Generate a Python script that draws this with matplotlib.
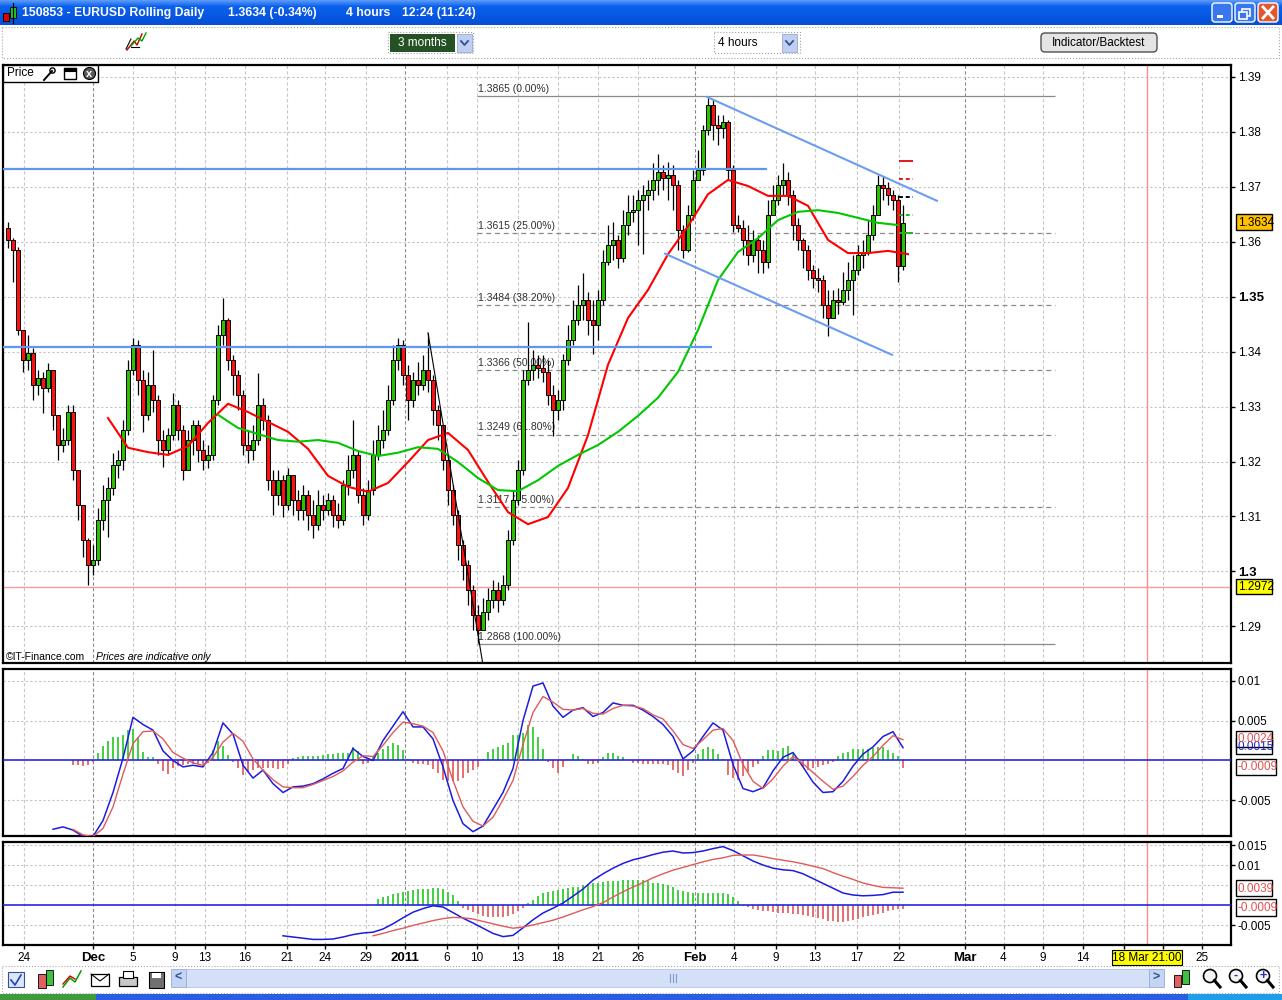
import numpy as np
import matplotlib
matplotlib.use("Agg")
import matplotlib.pyplot as plt
from matplotlib.patches import Rectangle, FancyBboxPatch, Circle

plt.rcParams["font.family"] = ["Liberation Sans", "DejaVu Sans"]

# ---- EURUSD candles (one candle ~ 8 hours) ----
first_open = 1.3625
close = [
    1.3603, 1.3585, 1.3439, 1.3384, 1.3398, 1.3339, 1.3352, 1.3334, 1.3366, 1.3285,
    1.3230, 1.3239, 1.3290, 1.3184, 1.3121, 1.3057, 1.3012, 1.3021, 1.3094, 1.3130,
    1.3152, 1.3194, 1.3203, 1.3257, 1.3366, 1.3412, 1.3348, 1.3285, 1.3339, 1.3312,
    1.3239, 1.3221, 1.3248, 1.3303, 1.3257, 1.3184, 1.3239, 1.3266, 1.3221, 1.3203,
    1.3212, 1.3312, 1.3430, 1.3457, 1.3384, 1.3357, 1.3321, 1.3230, 1.3221, 1.3239,
    1.3303, 1.3275, 1.3166, 1.3139, 1.3166, 1.3121, 1.3175, 1.3130, 1.3112, 1.3139,
    1.3103, 1.3085, 1.3121, 1.3112, 1.3130, 1.3103, 1.3094, 1.3157, 1.3184, 1.3212,
    1.3139, 1.3103, 1.3148, 1.3212, 1.3239, 1.3257, 1.3312, 1.3384, 1.3412, 1.3357,
    1.3312, 1.3348, 1.3339, 1.3366, 1.3348, 1.3294, 1.3266, 1.3203, 1.3148, 1.3103,
    1.3048, 1.3012, 1.2967, 1.2921, 1.2894, 1.2926, 1.2948, 1.2967, 1.2948, 1.2976,
    1.3057, 1.3130, 1.3184, 1.3348, 1.3366, 1.3375, 1.3370, 1.3363, 1.3321, 1.3294,
    1.3312, 1.3384, 1.3421, 1.3457, 1.3485, 1.3494, 1.3457, 1.3448, 1.3494, 1.3563,
    1.3594, 1.3603, 1.3570, 1.3630, 1.3654, 1.3657, 1.3675, 1.3685, 1.3694, 1.3712,
    1.3726, 1.3715, 1.3721, 1.3703, 1.3621, 1.3585, 1.3648, 1.3712, 1.3730, 1.3803,
    1.3848, 1.3812, 1.3806, 1.3817, 1.3730, 1.3630, 1.3624, 1.3603, 1.3575, 1.3603,
    1.3585, 1.3563, 1.3648, 1.3675, 1.3703, 1.3712, 1.3685, 1.3630, 1.3603, 1.3585,
    1.3548, 1.3534, 1.3530, 1.3485, 1.3461, 1.3494, 1.3490, 1.3512, 1.3530, 1.3548,
    1.3575, 1.3581, 1.3612, 1.3648, 1.3703, 1.3697, 1.3685, 1.3675, 1.3555, 1.3634,
]
high = [
    1.3635, 1.3606, 1.3590, 1.3439, 1.3430, 1.3407, 1.3366, 1.3363, 1.3379, 1.3366,
    1.3285, 1.3261, 1.3303, 1.3303, 1.3184, 1.3121, 1.3060, 1.3048, 1.3115, 1.3157,
    1.3172, 1.3215, 1.3221, 1.3275, 1.3384, 1.3425, 1.3421, 1.3366, 1.3363, 1.3403,
    1.3321, 1.3257, 1.3261, 1.3324, 1.3312, 1.3266, 1.3257, 1.3275, 1.3275, 1.3239,
    1.3230, 1.3321, 1.3448, 1.3497, 1.3461, 1.3393, 1.3366, 1.3330, 1.3257, 1.3266,
    1.3361, 1.3315, 1.3285, 1.3184, 1.3184, 1.3175, 1.3188, 1.3175, 1.3148, 1.3157,
    1.3148, 1.3130, 1.3148, 1.3139, 1.3143, 1.3139, 1.3125, 1.3166, 1.3212, 1.3275,
    1.3221, 1.3152, 1.3166, 1.3239, 1.3266, 1.3294, 1.3339, 1.3412, 1.3425, 1.3421,
    1.3375, 1.3363, 1.3381, 1.3393, 1.3434, 1.3357, 1.3303, 1.3266, 1.3212, 1.3157,
    1.3112, 1.3057, 1.3021, 1.2976, 1.2939, 1.2952, 1.2970, 1.2985, 1.2981, 1.2994,
    1.3076, 1.3148, 1.3203, 1.3366, 1.3454, 1.3403, 1.3393, 1.3393, 1.3384, 1.3339,
    1.3330, 1.3395, 1.3448, 1.3494, 1.3521, 1.3543, 1.3508, 1.3494, 1.3512, 1.3585,
    1.3630, 1.3635, 1.3612, 1.3657, 1.3685, 1.3685, 1.3694, 1.3703, 1.3712, 1.3743,
    1.3759, 1.3739, 1.3745, 1.3739, 1.3712, 1.3630, 1.3666, 1.3730, 1.3766, 1.3812,
    1.3861, 1.3857, 1.3830, 1.3830, 1.3821, 1.3739, 1.3648, 1.3639, 1.3630, 1.3621,
    1.3612, 1.3603, 1.3675, 1.3703, 1.3721, 1.3743, 1.3726, 1.3694, 1.3643, 1.3606,
    1.3594, 1.3557, 1.3552, 1.3539, 1.3512, 1.3512, 1.3515, 1.3545, 1.3563, 1.3575,
    1.3594, 1.3603, 1.3639, 1.3666, 1.3721, 1.3719, 1.3708, 1.3694, 1.3685, 1.3666,
]
low = [
    1.3588, 1.3526, 1.3430, 1.3363, 1.3366, 1.3312, 1.3321, 1.3288, 1.3326, 1.3257,
    1.3203, 1.3217, 1.3230, 1.3166, 1.3094, 1.3026, 1.2976, 1.2994, 1.3012, 1.3076,
    1.3063, 1.3139, 1.3170, 1.3184, 1.3248, 1.3357, 1.3321, 1.3254, 1.3275, 1.3290,
    1.3212, 1.3190, 1.3212, 1.3239, 1.3239, 1.3166, 1.3184, 1.3212, 1.3199, 1.3184,
    1.3188, 1.3203, 1.3303, 1.3412, 1.3366, 1.3321, 1.3294, 1.3212, 1.3197, 1.3203,
    1.3230, 1.3257, 1.3148, 1.3103, 1.3121, 1.3099, 1.3112, 1.3103, 1.3094, 1.3094,
    1.3076, 1.3061, 1.3076, 1.3094, 1.3103, 1.3081, 1.3079, 1.3085, 1.3139, 1.3170,
    1.3125, 1.3085, 1.3094, 1.3139, 1.3203, 1.3224, 1.3248, 1.3303, 1.3366, 1.3339,
    1.3275, 1.3299, 1.3321, 1.3330, 1.3326, 1.3266, 1.3239, 1.3184, 1.3121, 1.3085,
    1.3021, 1.2985, 1.2939, 1.2894, 1.2870, 1.2894, 1.2912, 1.2933, 1.2926, 1.2939,
    1.2967, 1.3048, 1.3121, 1.3175, 1.3339, 1.3348, 1.3352, 1.3345, 1.3303, 1.3246,
    1.3275, 1.3294, 1.3375, 1.3412, 1.3448, 1.3457, 1.3430, 1.3395, 1.3421, 1.3485,
    1.3557, 1.3566, 1.3552, 1.3563, 1.3612, 1.3635, 1.3594, 1.3577, 1.3657, 1.3675,
    1.3685, 1.3694, 1.3675, 1.3657, 1.3585, 1.3570, 1.3581, 1.3639, 1.3712, 1.3721,
    1.3793, 1.3784, 1.3775, 1.3788, 1.3712, 1.3617, 1.3617, 1.3575, 1.3557, 1.3563,
    1.3543, 1.3543, 1.3552, 1.3648, 1.3666, 1.3685, 1.3666, 1.3603, 1.3585, 1.3552,
    1.3530, 1.3515, 1.3508, 1.3461, 1.3428, 1.3461, 1.3468, 1.3485, 1.3494, 1.3466,
    1.3540, 1.3552, 1.3575, 1.3603, 1.3648, 1.3675, 1.3666, 1.3657, 1.3526, 1.3548,
]

# moving averages, sampled every 4 candles
ma_step = 4
ma_red_start = 20
ma_red = [
    1.3279, 1.3225, 1.3217, 1.3212, 1.3228, 1.3270, 1.3305, 1.3290, 1.3272, 1.3254,
    1.3223, 1.3174, 1.3154, 1.3145, 1.3161, 1.3199, 1.3239, 1.3252, 1.3221, 1.3163,
    1.3108, 1.3086, 1.3099, 1.3152, 1.3248, 1.3376, 1.3461, 1.3512, 1.3577, 1.3628,
    1.3686, 1.3712, 1.3701, 1.3683, 1.3683, 1.3665, 1.3603, 1.3579, 1.3579, 1.3583,
    1.3577,
]
ma_green_start = 42
ma_green = [
    1.3285, 1.3261, 1.3250, 1.3239, 1.3236, 1.3239, 1.3234, 1.3219, 1.3210, 1.3216,
    1.3226, 1.3223, 1.3199, 1.3170, 1.3148, 1.3146, 1.3166, 1.3192, 1.3212, 1.3230,
    1.3254, 1.3283, 1.3316, 1.3363, 1.3439, 1.3530, 1.3581, 1.3606, 1.3639, 1.3654,
    1.3657, 1.3652, 1.3643, 1.3634, 1.3630,
]

# drawn objects
res_levels = [1.3732, 1.3408]
res_end = [151.8, 140.8]
chan_upper_x, chan_upper_y = [139.8, 185.8], [1.3863, 1.3674]
chan_lower_x, chan_lower_y = [131.4, 176.8], [1.3578, 1.3394]
diag_x, diag_y = [84.0, 95.0], [1.3434, 1.2830]
fib_x = [93.8, 209.4]
fib_levels = [1.3865, 1.3615, 1.3484, 1.3366, 1.3249, 1.3117, 1.2868]
fib_pcts = [0.00, 25.00, 38.20, 50.00, 61.80, 75.00, 100.00]
pivot_x = [178.2, 181.0]
pivot_levels = [1.3747, 1.3714, 1.3681, 1.3648, 1.3616]
pivot_colors = ["#e01818", "#e01818", "black", "#22b022", "#22b022"]
pivot_styles = ["-", "--", "--", "--", "-"]
last_low_level = 1.2972
cursor_x = 227.8

# MACD (fast), lines sampled every 2 candles
macd1_step = 2
macd1_start = 9
macd1 = [
    -0.0086, -0.0083, -0.0087, -0.0095, -0.0095, -0.0075, -0.0040, 0.0003, 0.0054, 0.0045,
    0.0038, 0.0012, 0.0000, -0.0008, -0.0006, -0.0008, 0.0010, 0.0047, 0.0033, -0.0006,
    -0.0022, -0.0012, -0.0029, -0.0040, -0.0033, -0.0032, -0.0029, -0.0023, -0.0016, -0.0010,
    0.0015, 0.0005, 0.0000, 0.0025, 0.0043, 0.0061, 0.0042, 0.0042, 0.0027, -0.0008,
    -0.0050, -0.0079, -0.0089, -0.0082, -0.0061, -0.0040, -0.0010, 0.0050, 0.0093, 0.0097,
    0.0068, 0.0054, 0.0063, 0.0066, 0.0055, 0.0060, 0.0072, 0.0069, 0.0069, 0.0063,
    0.0055, 0.0045, 0.0030, 0.0002, 0.0012, 0.0030, 0.0047, 0.0038, -0.0005, -0.0035,
    -0.0039, -0.0034, -0.0013, 0.0004, 0.0010, -0.0008, -0.0027, -0.0040, -0.0039, -0.0026,
    -0.0007, 0.0008, 0.0017, 0.0030, 0.0036, 0.0016,
]
signal1_start = 13
signal1 = [
    -0.0086, -0.0093, -0.0095, -0.0085, -0.0058, -0.0017, 0.0021, 0.0036, 0.0037, 0.0027,
    0.0010, 0.0003, -0.0003, -0.0006, 0.0004, 0.0023, 0.0034, 0.0024, 0.0002, -0.0012,
    -0.0024, -0.0033, -0.0034, -0.0034, -0.0030, -0.0025, -0.0020, -0.0013, -0.0002, 0.0006,
    0.0005, 0.0019, 0.0035, 0.0048, 0.0046, 0.0043, 0.0035, 0.0012, -0.0025, -0.0058,
    -0.0076, -0.0082, -0.0071, -0.0049, -0.0025, 0.0020, 0.0060, 0.0080, 0.0073, 0.0064,
    0.0063, 0.0065, 0.0059, 0.0058, 0.0065, 0.0069, 0.0068, 0.0065, 0.0057, 0.0052,
    0.0037, 0.0020, 0.0015, 0.0026, 0.0038, 0.0040, 0.0025, -0.0005, -0.0026, -0.0035,
    -0.0023, -0.0007, 0.0005, -0.0004, -0.0015, -0.0026, -0.0036, -0.0032, -0.0020, -0.0006,
    0.0005, 0.0019, 0.0031, 0.0026,
]
hist1_start = 13
hist1 = [
    -0.0006, -0.0006, -0.0007, -0.0006, -0.0002, 0.0010, 0.0018, 0.0024, 0.0030, 0.0030,
    0.0032, 0.0038, 0.0040, 0.0030, 0.0011, 0.0004, 0.0004, -0.0004, -0.0013, -0.0017,
    -0.0010, -0.0007, -0.0006, -0.0005, -0.0005, -0.0005, -0.0005, -0.0003, 0.0013, 0.0024,
    0.0018, 0.0007, -0.0002, -0.0010, -0.0018, -0.0014, -0.0012, -0.0010, -0.0010, -0.0010,
    -0.0010, -0.0011, -0.0010, -0.0004, 0.0003, 0.0004, 0.0006, 0.0006, 0.0006, 0.0006,
    0.0007, 0.0008, 0.0008, 0.0009, 0.0010, 0.0010, 0.0017, 0.0012, -0.0004, -0.0003,
    0.0005, 0.0010, 0.0015, 0.0018, 0.0022, 0.0020, 0.0013, 0.0002, -0.0003, -0.0004,
    -0.0005, -0.0006, -0.0011, -0.0016, -0.0024, -0.0026, -0.0026, -0.0026, -0.0022, -0.0016,
    -0.0012, -0.0008, 0.0002, 0.0011, 0.0015, 0.0017, 0.0020, 0.0022, 0.0032, 0.0032,
    0.0035, 0.0045, 0.0042, 0.0030, 0.0015, -0.0002, -0.0010, -0.0016, -0.0008, 0.0002,
    0.0008, 0.0006, 0.0002, -0.0004, -0.0004, -0.0003, 0.0004, 0.0010, 0.0009, 0.0006,
    0.0004, 0.0001, -0.0003, -0.0003, -0.0004, -0.0004, -0.0004, -0.0004, -0.0004, -0.0006,
    -0.0012, -0.0016, -0.0020, -0.0012, -0.0003, 0.0008, 0.0014, 0.0017, 0.0014, 0.0008,
    0.0002, -0.0018, -0.0022, -0.0024, -0.0020, -0.0014, -0.0008, -0.0004, 0.0006, 0.0013,
    0.0013, 0.0012, 0.0016, 0.0018, 0.0008, 0.0003, -0.0008, -0.0012, -0.0010, -0.0008,
    -0.0006, -0.0004, -0.0002, 0.0005, 0.0009, 0.0011, 0.0014, 0.0015, 0.0015, 0.0015,
    0.0016, 0.0017, 0.0017, 0.0013, 0.0010, 0.0005, -0.0010,
]

# MACD (slow)
macd2_start = 55
macd2 = [
    -0.0077, -0.0080, -0.0083, -0.0086, -0.0086, -0.0085, -0.0080, -0.0074, -0.0070, -0.0068,
    -0.0060, -0.0047, -0.0032, -0.0018, -0.0009, -0.0002, -0.0005, -0.0019, -0.0033, -0.0045,
    -0.0058, -0.0071, -0.0079, -0.0076, -0.0057, -0.0037, -0.0020, -0.0008, 0.0005, 0.0022,
    0.0040, 0.0062, 0.0078, 0.0092, 0.0104, 0.0113, 0.0119, 0.0126, 0.0132, 0.0135,
    0.0130, 0.0131, 0.0135, 0.0141, 0.0146, 0.0136, 0.0123, 0.0110, 0.0100, 0.0092,
    0.0088, 0.0086, 0.0078, 0.0066, 0.0054, 0.0042, 0.0030, 0.0025, 0.0023, 0.0024,
    0.0026, 0.0032, 0.0032,
]
signal2_start = 73
signal2 = [
    -0.0077, -0.0071, -0.0064, -0.0058, -0.0051, -0.0045, -0.0039, -0.0034, -0.0031, -0.0032,
    -0.0035, -0.0041, -0.0047, -0.0053, -0.0058, -0.0055, -0.0050, -0.0044, -0.0038, -0.0030,
    -0.0021, -0.0012, -0.0004, 0.0006, 0.0020, 0.0033, 0.0045, 0.0056, 0.0068, 0.0078,
    0.0087, 0.0094, 0.0101, 0.0108, 0.0114, 0.0118, 0.0124, 0.0125, 0.0125, 0.0121,
    0.0116, 0.0112, 0.0108, 0.0103, 0.0097, 0.0091, 0.0081, 0.0072, 0.0064, 0.0055,
    0.0049, 0.0044, 0.0043, 0.0042,
]
hist2_start = 74
hist2 = [
    0.0015, 0.0020, 0.0023, 0.0027, 0.0029, 0.0032, 0.0035, 0.0037, 0.0039, 0.0040,
    0.0041, 0.0042, 0.0042, 0.0040, 0.0033, 0.0025, 0.0010, -0.0008, -0.0013, -0.0018,
    -0.0023, -0.0027, -0.0029, -0.0031, -0.0031, -0.0030, -0.0027, -0.0022, -0.0015, -0.0008,
    0.0005, 0.0013, 0.0022, 0.0030, 0.0033, 0.0036, 0.0038, 0.0040, 0.0042, 0.0044,
    0.0046, 0.0049, 0.0052, 0.0054, 0.0056, 0.0058, 0.0059, 0.0060, 0.0061, 0.0062,
    0.0063, 0.0063, 0.0063, 0.0062, 0.0059, 0.0056, 0.0054, 0.0052, 0.0050, 0.0045,
    0.0038, 0.0034, 0.0032, 0.0031, 0.0031, 0.0031, 0.0031, 0.0031, 0.0031, 0.0030,
    0.0027, 0.0020, 0.0010, -0.0003, -0.0006, -0.0010, -0.0012, -0.0014, -0.0016, -0.0018,
    -0.0019, -0.0020, -0.0021, -0.0022, -0.0023, -0.0025, -0.0028, -0.0031, -0.0033, -0.0036,
    -0.0039, -0.0041, -0.0042, -0.0042, -0.0040, -0.0037, -0.0034, -0.0031, -0.0028, -0.0025,
    -0.0022, -0.0019, -0.0016, -0.0013, -0.0011, -0.0010,
]

# axes ticks
price_ticks = [1.29, 1.30, 1.31, 1.32, 1.33, 1.34, 1.35, 1.36, 1.37, 1.38, 1.39]
price_labels = ["1.29", "1.3", "1.31", "1.32", "1.33", "1.34", "1.35", "1.36", "1.37", "1.38", "1.39"]
date_pos = [3.2, 17.0, 25.0, 33.4, 39.4, 47.4, 55.8, 63.4, 71.6, 79.4, 87.8, 93.8, 102.0,
            110.0, 118.0, 126.0, 137.4, 145.2, 153.6, 161.4, 169.7, 178.2, 191.3, 199.1,
            207.0, 214.9, 223.2, 231.0, 238.7]
date_labels = ["24", "Dec", "5", "9", "13", "16", "21", "24", "29", "2011", "6", "10", "13",
               "18", "21", "26", "Feb", "4", "9", "13", "17", "22", "Mar", "4", "9",
               "14", "", "", "25"]
month_labels = {"Dec", "2011", "Feb", "Mar"}

W, H = 1282, 1000
fig = plt.figure(figsize=(W / 100, H / 100), dpi=100)
fig.patch.set_facecolor("white")


def px_layer(z):
    ax = fig.add_axes([0, 0, 1, 1])
    ax.set_zorder(z)
    ax.set_xlim(0, W)
    ax.set_ylim(H, 0)
    ax.axis("off")
    ax.patch.set_alpha(0)
    return ax


def panel(left, top, right, bottom):
    ax = fig.add_axes([left / W, 1 - bottom / H, (right - left) / W, (bottom - top) / H])
    ax.set_zorder(2)
    ax.set_facecolor("white")
    for sp in ax.spines.values():
        sp.set_linewidth(1.6)
        sp.set_color("black")
    ax.set_xlim(-1.0, 244.6)
    ax.yaxis.tick_right()
    ax.tick_params(axis="y", length=3, width=1, labelsize=8.5, pad=2)
    ax.tick_params(axis="x", length=0)
    ax.set_xticks([])
    for pos, lab in zip(date_pos, date_labels):
        month = lab in month_labels
        ax.axvline(pos, color="#8a8a8a" if month else "#c8c8c8", lw=0.8,
                   ls=(0, (3, 2)), zorder=0)
    ax.axvline(cursor_x, color="#ff8c8c", lw=1.0, zorder=1)
    return ax


# ---------------- window chrome ----------------
bg = px_layer(0)
g = np.linspace(0, 1, 25)
rgb = np.stack([np.interp(g, [0, 0.25, 1], [0.35, 0.04, 0.02]),
                np.interp(g, [0, 0.25, 1], [0.60, 0.38, 0.31]),
                np.interp(g, [0, 0.25, 1], [0.98, 0.93, 0.84])], axis=1)
bg.imshow(rgb[:, None, :], extent=(0, W, 25, 0), aspect="auto", interpolation="bilinear")
bg.set_xlim(0, W)
bg.set_ylim(H, 0)

# title icon
bg.add_patch(Rectangle((3, 13), 6, 8, fc="#e00000", ec="black", lw=0.6))
bg.add_patch(Rectangle((10, 7), 6, 11, fc="#20c020", ec="black", lw=0.6))
bg.plot([13, 13], [3, 23], color="black", lw=0.8)
for x0, txt in [(22, "150853 - EURUSD Rolling Daily"), (228, "1.3634 (-0.34%)"),
                (346, "4 hours"), (402, "12:24 (11:24)")]:
    bg.text(x0, 13, txt, color="white", fontsize=8.8, fontweight="bold", va="center")

# window buttons
for x0, fc in [(1212, "#3a76ee"), (1235, "#3a76ee"), (1258, "#e2582e")]:
    bg.add_patch(FancyBboxPatch((x0, 3), 20, 19, boxstyle="round,pad=0,rounding_size=3",
                                fc=fc, ec="white", lw=1.0))
bg.add_patch(Rectangle((1217, 15), 6, 3, fc="white", ec="none"))
bg.add_patch(Rectangle((1242, 9), 8, 7, fill=False, ec="white", lw=1.2))
bg.add_patch(Rectangle((1239, 12), 8, 7, fc="#3a76ee", ec="white", lw=1.2))
bg.plot([1263, 1273], [7, 18], color="white", lw=2)
bg.plot([1263, 1273], [18, 7], color="white", lw=2)

# toolbar
bg.add_patch(Rectangle((2, 27), 1277, 31, fill=False, ec="#a8a8a8", lw=0.8, ls=":"))
bg.plot([127, 134, 137, 142], [50, 41, 45, 34], color="#c00000", lw=1)
bg.plot([131, 138, 142, 146], [46, 38, 41, 33], color="#00a000", lw=1)
bg.plot([126, 131], [49, 39], color="black", lw=0.8)
bg.plot([131, 139], [47, 47], color="black", lw=0.8)

bg.add_patch(Rectangle((388, 32), 85, 21, fill=False, ec="#a0a0a0", lw=0.8, ls=":"))
bg.add_patch(Rectangle((390, 34), 65, 18, fc="#245224", ec="none"))
bg.text(422, 43, "3 months", color="white", fontsize=8.5, ha="center", va="center")
bg.add_patch(Rectangle((457, 34), 15, 18, fc="#bfcff3", ec="#9aaad0", lw=0.6))
bg.plot([461, 464.5, 468], [41, 45, 41], color="#34508c", lw=1.3)

bg.add_patch(Rectangle((714, 32), 86, 21, fill=False, ec="#a0a0a0", lw=0.8, ls=":"))
bg.text(718, 43, "4 hours", color="black", fontsize=8.5, va="center")
bg.add_patch(Rectangle((782, 34), 15, 18, fc="#bfcff3", ec="#9aaad0", lw=0.6))
bg.plot([786, 789.5, 793], [41, 45, 41], color="#34508c", lw=1.3)

bg.add_patch(FancyBboxPatch((1041, 33), 116, 19, boxstyle="round,pad=0,rounding_size=4",
                            fc="#e4e4e4", ec="#505050", lw=1.0))
bg.text(1099, 42.5, "Indicator/Backtest", color="black", fontsize=8.5,
        ha="center", va="center")

# bottom toolbar
bg.add_patch(Rectangle((2, 966), 1277, 27, fill=False, ec="#a8a8a8", lw=0.8, ls=":"))
bg.add_patch(Rectangle((8, 972), 16, 15, fc="#dde6f6", ec="#3050a0", lw=0.8))
bg.plot([11, 15, 21], [980, 985, 975], color="#2040c0", lw=1.2)
bg.add_patch(Rectangle((38, 974), 8, 14, fc="#e06060", ec="black", lw=0.6))
bg.add_patch(Rectangle((46, 970), 7, 15, fc="#40c040", ec="black", lw=0.6))
bg.plot([63, 70, 75, 81], [987, 978, 982, 971], color="#00a000", lw=1.1)
bg.plot([63, 70, 75], [984, 976, 979], color="#d00000", lw=1.0)
bg.add_patch(Rectangle((91, 974), 18, 12, fc="white", ec="black", lw=0.9))
bg.plot([91, 100, 109], [974, 981, 974], color="black", lw=0.8)
bg.add_patch(Rectangle((119, 977), 18, 9, fc="#c8c8c8", ec="black", lw=0.9))
bg.add_patch(Rectangle((123, 971), 10, 7, fc="white", ec="black", lw=0.8))
bg.add_patch(Rectangle((149, 972), 15, 16, fc="#707070", ec="black", lw=0.8))
bg.add_patch(Rectangle((152, 973), 9, 5, fc="white", ec="none"))
bg.add_patch(Rectangle((186, 969), 963, 18, fc="#d3e0f8", ec="#b4c4e4", lw=0.6))
for x0, sym in [(171, "<"), (1149, ">")]:
    bg.add_patch(Rectangle((x0, 969), 15, 18, fc="#c4d4f4", ec="#98acd8", lw=0.6))
    bg.text(x0 + 7.5, 978, sym, color="#34508c", fontsize=9, fontweight="bold",
            ha="center", va="center")
for xg in (670, 673, 676):
    bg.plot([xg, xg], [974, 982], color="#7f98d0", lw=0.8)
bg.add_patch(Rectangle((1174, 975), 7, 12, fc="#e06060", ec="black", lw=0.6))
bg.add_patch(Rectangle((1182, 970), 7, 14, fc="#40c040", ec="black", lw=0.6))
for cx, sym in [(1210, ""), (1236, "-"), (1263, "+")]:
    bg.add_patch(Circle((cx, 976), 6.5, fc="#f4f4f4", ec="black", lw=1.2))
    bg.plot([cx + 4.5, cx + 10], [980.5, 987], color="black", lw=2.2)
    if sym:
        bg.text(cx, 975.5, sym, color="#2030c0", fontsize=9, fontweight="bold",
                ha="center", va="center")
bg.add_patch(Rectangle((0, 994), W, 6, fc="#2a5ee0", ec="none"))
bg.add_patch(Rectangle((0, 994), 96, 6, fc="#3d9a3d", ec="none"))
bg.add_patch(Rectangle((1188, 994), 94, 6, fc="#1d9ee8", ec="none"))

# ---------------- price panel ----------------
ax1 = panel(3, 65, 1231, 663)
ax1.set_ylim(1.28336, 1.3921)
for v in price_ticks:
    ax1.axhline(v, color="#c4c4c4", lw=0.8, ls=(0, (2, 2)), zorder=0)
ax1.set_yticks(price_ticks)
ax1.set_yticklabels(price_labels)
for t in ax1.get_yticklabels():
    if t.get_text() in ("1.3", "1.35"):
        t.set_fontweight("bold")
        t.set_fontsize(9.5)

ax1.axhline(last_low_level, color="#ff9a9a", lw=1.0, zorder=1)

# fibonacci retracement
for lvl, pct in zip(fib_levels, fib_pcts):
    solid = pct in (0.0, 100.0)
    ax1.hlines(lvl, fib_x[0], fib_x[1], color="#8a8a8a", lw=0.9,
               ls="-" if solid else (0, (4, 3)), zorder=1)
    ax1.annotate(f"{lvl:.4f} ({pct:.2f}%)", xy=(fib_x[0], lvl), xytext=(1, 1.5),
                 textcoords="offset points", fontsize=7.5, color="#303030",
                 va="bottom", zorder=2)

o = np.r_[first_open, close[:-1]]
c = np.array(close)
xb = np.arange(len(c))
body = c - o
body = np.where(np.abs(body) < 0.00015, np.where(body >= 0, 0.00015, -0.00015), body)
ax1.vlines(xb, low, high, colors="black", lw=0.9, zorder=3)
ax1.bar(xb, body, bottom=o, width=0.85,
        color=np.where(c >= o, "#2cc000", "#ff1010"),
        edgecolor="black", linewidth=0.7, zorder=4)

ax1.plot(ma_red_start + ma_step * np.arange(len(ma_red)), ma_red,
         color="#ff0000", lw=1.5, zorder=5)
ax1.plot(ma_green_start + ma_step * np.arange(len(ma_green)), ma_green,
         color="#00c800", lw=1.5, zorder=5)

for lvl, x_end in zip(res_levels, res_end):
    ax1.hlines(lvl, -1.0, x_end, color="#5f96f2", lw=1.6, zorder=6)
ax1.plot(chan_upper_x, chan_upper_y, color="#6c9df0", lw=1.5, zorder=6)
ax1.plot(chan_lower_x, chan_lower_y, color="#6c9df0", lw=1.5, zorder=6)
ax1.plot(diag_x, diag_y, color="black", lw=0.8, zorder=6)
for lvl, col, ls in zip(pivot_levels, pivot_colors, pivot_styles):
    ax1.hlines(lvl, pivot_x[0], pivot_x[1], color=col, lw=1.4,
               ls=ls if ls == "-" else (0, (2, 1.5)), zorder=6)

# ---------------- MACD panels ----------------
ax2 = panel(3, 669, 1231, 836)
ax2.set_ylim(-0.00944, 0.01144)
for v in (0.01, 0.005, -0.005):
    ax2.axhline(v, color="#c4c4c4", lw=0.8, ls=(0, (2, 2)), zorder=0)
ax2.set_yticks([0.01, 0.005, -0.005])
ax2.set_yticklabels(["0.01", "0.005", "-0.005"])
h1 = np.array(hist1)
xh1 = hist1_start + np.arange(len(h1))
ax2.vlines(xh1, 0, h1, colors=np.where(h1 >= 0, "#33cc33", "#e06464"), lw=1.3, zorder=2)
ax2.axhline(0, color="#2626e0", lw=1.2, zorder=3)
ax2.plot(macd1_start + macd1_step * np.arange(len(macd1)), macd1,
         color="#1c1ce0", lw=1.1, zorder=4)
ax2.plot(signal1_start + macd1_step * np.arange(len(signal1)), signal1,
         color="#e05a5a", lw=1.0, zorder=4)

ax3 = panel(3, 842, 1231, 945)
ax3.set_ylim(-0.0100, 0.01575)
for v in (0.015, 0.01, 0.005, -0.005):
    ax3.axhline(v, color="#c4c4c4", lw=0.8, ls=(0, (2, 2)), zorder=0)
ax3.set_yticks([0.015, 0.01, -0.005])
ax3.set_yticklabels(["0.015", "0.01", "-0.005"])
h2 = np.array(hist2)
xh2 = hist2_start + np.arange(len(h2))
ax3.vlines(xh2, 0, h2, colors=np.where(h2 >= 0, "#33cc33", "#e06464"), lw=1.3, zorder=2)
ax3.axhline(0, color="#2626e0", lw=1.2, zorder=3)
ax3.plot(macd2_start + macd1_step * np.arange(len(macd2)), macd2,
         color="#1c1ce0", lw=1.1, zorder=4)
ax3.plot(signal2_start + macd1_step * np.arange(len(signal2)), signal2,
         color="#e05a5a", lw=1.0, zorder=4)

ax3.set_xticks(date_pos)
ax3.set_xticklabels(date_labels)
ax3.tick_params(axis="x", length=3, width=1, labelsize=8.5, pad=2)
for t in ax3.get_xticklabels():
    if t.get_text() in month_labels:
        t.set_fontweight("bold")
        t.set_fontsize(9.5)

# ---------------- overlay labels ----------------
ov = px_layer(10)
ov.add_patch(Rectangle((3, 65), 95, 17, fc="white", ec="black", lw=1.0))
ov.text(7, 73.5, "Price", fontsize=8.5, va="center")
ov.plot([44, 52], [80, 71], color="black", lw=1.4)
ov.add_patch(Circle((52.5, 70.5), 2.6, fc="white", ec="black", lw=1.0))
ov.add_patch(Rectangle((64, 68), 12, 11, fc="white", ec="black", lw=1.0))
ov.add_patch(Rectangle((64, 68), 12, 3, fc="black", ec="black", lw=0.8))
ov.add_patch(Circle((89.5, 73.5), 6, fc="#5a5a5a", ec="black", lw=0.8))
ov.text(89.5, 73.7, "x", color="white", fontsize=8, fontweight="bold",
        ha="center", va="center")
ov.text(6, 657, "\u00a9IT-Finance.com", fontsize=7.5, va="center")
ov.text(96, 657, "Prices are indicative only", fontsize=7.5, style="italic", va="center")


def value_box(y0, y1, txt, fc, tc, right=1272):
    ov.add_patch(Rectangle((1236, y0), right - 1236, y1 - y0, fc=fc, ec="black", lw=1.0))
    ov.text(1238, (y0 + y1) / 2 + 0.5, txt, color=tc, fontsize=8.5, va="center")


value_box(214, 230, "1.3634", "#ffc000", "black")
value_box(579, 594, "1.2972", "#ffff00", "black")
value_box(738, 754, "0.0015", "white", "#2020d0")
value_box(731, 747, "0.0024", "white", "#e05050")
value_box(759, 775, "-0.0009", "white", "#e05050", right=1276)
value_box(880, 896, "0.0039", "white", "#e05050")
value_box(899, 916, "-0.0009", "white", "#e05050", right=1276)

ov.add_patch(Rectangle((1112, 950), 70, 15, fc="#ffff00", ec="black", lw=0.8))
ov.text(1147, 958, "18 Mar 21:00", fontsize=8.5, ha="center", va="center")

plt.savefig("out.png", dpi=100, facecolor=fig.get_facecolor())
